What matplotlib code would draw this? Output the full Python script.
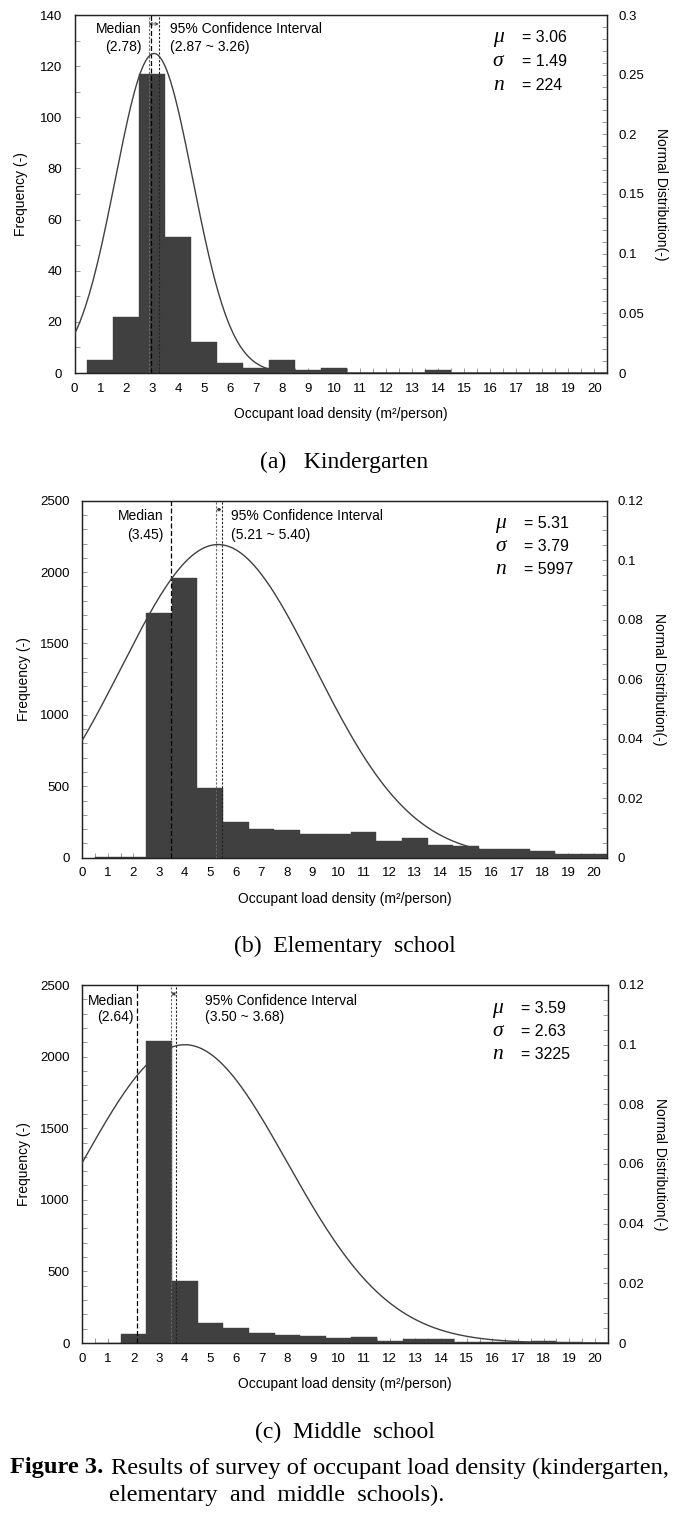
import numpy as np
import matplotlib
matplotlib.use('Agg')
import matplotlib.pyplot as plt
from matplotlib.ticker import MultipleLocator, FuncFormatter

plt.rcParams['font.family'] = ['Liberation Sans', 'DejaVu Sans']

# ---------------- data ----------------
bin_centers = list(range(1, 21))
kg_counts = [5, 22, 117, 53, 12, 4, 2, 5, 1, 2, 0, 0, 0, 1, 0, 0, 0, 0, 0, 0]
el_counts = [3, 8, 1716, 1956, 491, 248, 203, 196, 168, 168, 178, 117, 138, 86, 82, 58, 58, 49, 26, 26]
ms_counts = [0, 60, 2112, 435, 142, 105, 70, 56, 49, 35, 44, 14, 30, 26, 7, 9, 7, 16, 7, 0]

stat_mu = ["3.06", "5.31", "3.59"]
stat_sigma = ["1.49", "3.79", "2.63"]
stat_n = ["224", "5997", "3225"]
median_labels = ["(2.78)", "(3.45)", "(2.64)"]
ci_labels = ["(2.87 ~ 3.26)", "(5.21 ~ 5.40)", "(3.50 ~ 3.68)"]

# drawn normal curve parameters
curve_mu = [3.06, 5.31, 4.0]
curve_sigma = [1.49, 3.79, 3.99]
# positions of vertical reference lines as drawn
median_line_x = [2.95, 3.45, 2.15]
ci_line_lo = [2.85, 5.24, 3.48]
ci_line_hi = [3.24, 5.45, 3.66]

subtitles = ["(a)   Kindergarten", "(b)  Elementary  school", "(c)  Middle  school"]

W, H = 689, 1516
fig = plt.figure(figsize=(W / 100, H / 100), dpi=100)

def fx(px):
    return px / W

def fy(py):
    return 1 - py / H

panels = [
    dict(l=74.5, r=607.3, t=15, b=373, counts=kg_counts, ymax=140, ymaj=20, ymin=10,
         y2max=0.3, y2maj=0.05, y2min=0.01, med_tx=2.57, ci_tx=3.69, eq_x=17.2, mu_x=16.3,
         rows=[0.9385, 0.869, 0.804], txt_y=[0.962, 0.91], ylab_x=-0.087, sub_y=462),
    dict(l=82.3, r=606.5, t=500.7, b=857.7, counts=el_counts, ymax=2500, ymaj=500, ymin=100,
         y2max=0.12, y2maj=0.02, y2min=0.005, med_tx=3.19, ci_tx=5.81, eq_x=17.26, mu_x=16.35,
         rows=[0.937, 0.871, 0.806], txt_y=[0.958, 0.904], ylab_x=-0.098, sub_y=946),
    dict(l=82.3, r=607.7, t=985, b=1343, counts=ms_counts, ymax=2500, ymaj=500, ymin=100,
         y2max=0.12, y2maj=0.02, y2min=0.005, med_tx=2.0, ci_tx=4.8, eq_x=17.1, mu_x=16.2,
         rows=[0.935, 0.870, 0.806], txt_y=[0.956, 0.91], ylab_x=-0.098, sub_y=1432),
]

gfmt = FuncFormatter(lambda v, p: '%g' % round(v, 4))

for i, P in enumerate(panels):
    ax = fig.add_axes([fx(P['l']), fy(P['b']), fx(P['r'] - P['l']), (P['b'] - P['t']) / H])
    ax.bar(bin_centers, P['counts'], width=1.0, color='#404040', edgecolor='#404040',
           linewidth=0.3, zorder=2)
    ax.set_xlim(0, 20.5)
    ax.set_ylim(0, P['ymax'])
    ax.xaxis.set_major_locator(MultipleLocator(1))
    ax.xaxis.set_minor_locator(MultipleLocator(0.5))
    ax.yaxis.set_major_locator(MultipleLocator(P['ymaj']))
    ax.yaxis.set_minor_locator(MultipleLocator(P['ymin']))
    ax.tick_params(which='both', direction='in', color='#999999', labelsize=9.5,
                   length=3.5, width=0.7)
    ax.tick_params(axis='x', pad=7)
    ax.tick_params(axis='y', pad=9)
    for s in ax.spines.values():
        s.set_linewidth(0.9)
        s.set_color('#222222')

    ax2 = ax.twinx()
    xs = np.linspace(0, 20.5, 500)
    mu, sg = curve_mu[i], curve_sigma[i]
    ys = np.exp(-0.5 * ((xs - mu) / sg) ** 2) / (sg * np.sqrt(2 * np.pi))
    ax2.plot(xs, ys, color='#404040', lw=1.0, zorder=3)
    ax2.set_ylim(0, P['y2max'])
    ax2.yaxis.set_major_locator(MultipleLocator(P['y2maj']))
    ax2.yaxis.set_minor_locator(MultipleLocator(P['y2min']))
    ax2.yaxis.set_major_formatter(gfmt)
    ax2.tick_params(which='both', direction='in', color='#999999', labelsize=9.5,
                    length=3.5, width=0.7, pad=8)
    for s in ax2.spines.values():
        s.set_linewidth(0.9)
        s.set_color('#222222')

    # reference lines
    ax.axvline(median_line_x[i], color='black', lw=0.9, ls=(0, (4, 2)), zorder=4)
    ax.axvline(ci_line_lo[i], color='#666666', lw=0.8, ls=(0, (2, 1.5)), zorder=4)
    ax.axvline(ci_line_hi[i], color='#222222', lw=0.8, ls=(0, (2, 1.5)), zorder=4)
    ax.annotate('', xy=(ci_line_hi[i], 0.975), xytext=(ci_line_lo[i], 0.975),
                xycoords=('data', 'axes fraction'), textcoords=('data', 'axes fraction'),
                arrowprops=dict(arrowstyle='<->', lw=0.6, color='#333333',
                                mutation_scale=5, shrinkA=0, shrinkB=0))

    tr = ax.get_xaxis_transform()
    ax.text(P['med_tx'], P['txt_y'][0], "Median", transform=tr, ha='right', va='center', fontsize=10)
    ax.text(P['med_tx'], P['txt_y'][1], median_labels[i], transform=tr, ha='right', va='center', fontsize=10)
    ax.text(P['ci_tx'], P['txt_y'][0], "95% Confidence Interval", transform=tr, ha='left', va='center', fontsize=10)
    ax.text(P['ci_tx'], P['txt_y'][1], ci_labels[i], transform=tr, ha='left', va='center', fontsize=10)

    syms = ["\u03bc", "\u03c3", "n"]
    vals = [stat_mu[i], stat_sigma[i], stat_n[i]]
    for k in range(3):
        ax.text(P['mu_x'], P['rows'][k], syms[k], transform=tr, ha='center', va='center',
                fontsize=15.5, family='Liberation Serif', style='italic')
        ax.text(P['eq_x'], P['rows'][k], "= " + vals[k], transform=tr, ha='left', va='center',
                fontsize=11.5)

    ax.set_xlabel("Occupant load density (m\u00b2/person)", fontsize=10)
    ax.xaxis.set_label_coords(0.5, -0.095)
    ax.set_ylabel("Frequency (-)", fontsize=10)
    ax.yaxis.set_label_coords(P['ylab_x'], 0.5)
    ax2.set_ylabel("Normal Distribution(-)", fontsize=10, rotation=270, va='center')
    ax2.yaxis.set_label_coords(1.1, 0.5)

    fig.text(0.5, fy(P['sub_y']), subtitles[i], ha='center', va='center', fontsize=17,
             family='Liberation Serif')

# caption
fig.text(fx(10), fy(1468), "Figure 3.", ha='left', va='center', fontsize=17.6,
         family='Liberation Serif', weight='bold')
fig.text(fx(111), fy(1468), "Results of survey of occupant load density (kindergarten,",
         ha='left', va='center', fontsize=17.6, family='Liberation Serif')
fig.text(fx(109), fy(1495), "elementary  and  middle  schools).",
         ha='left', va='center', fontsize=17.6, family='Liberation Serif')

fig.savefig('out.png', dpi=100)
